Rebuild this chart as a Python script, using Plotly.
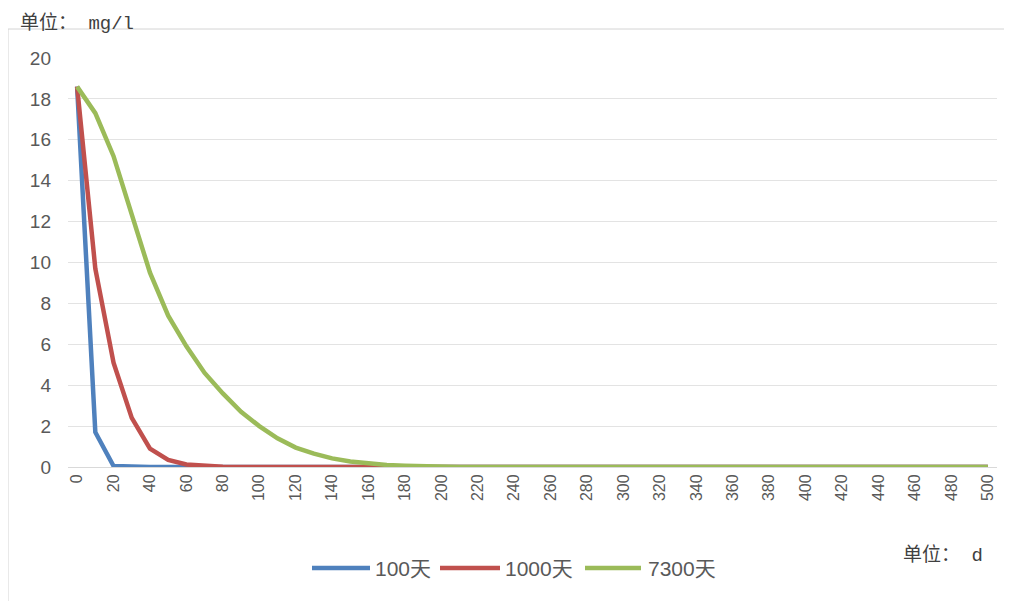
import plotly.graph_objects as go

days = list(range(0, 501, 10))

blue_100 = [18.6, 1.7, 0.05] + [0.0] * (len(days) - 3)
red_1000 = [18.6, 9.7, 5.1, 2.4, 0.9, 0.35, 0.12, 0.04, 0.01] + [0.0] * (len(days) - 9)
green_7300 = [18.6, 17.3, 15.2, 12.4, 9.5, 7.4, 5.9, 4.6, 3.6, 2.7, 2.0, 1.4, 0.95,
              0.65, 0.42, 0.27, 0.16, 0.1, 0.06, 0.03, 0.02] + [0.0] * (len(days) - 21)

series_names = ["100天", "1000天", "7300天"]
series_colors = ["#4F81BD", "#C0504D", "#9BBB59"]
series_values = [blue_100, red_1000, green_7300]

x_ticks = list(range(0, 501, 20))
y_ticks = list(range(0, 21, 2))

# page body has an 8px margin; work in screenshot pixels and convert
OFF = 8
W, H = 1012 - OFF, 601 - OFF
L, R, T, B = 60, 15, 50, 134
pw = W - L - R
ph = H - T - B


def px(xs):
    return (xs - OFF - L) / pw


def py(ys):
    return (H - B - (ys - OFF)) / ph


fig = go.Figure()
for name, color, vals in zip(series_names, series_colors, series_values):
    fig.add_trace(go.Scatter(x=days, y=vals, mode="lines", name=name,
                             line=dict(color=color, width=4.5), showlegend=False))

fig.update_layout(
    width=W, height=H,
    margin=dict(l=L, r=R, t=T, b=B, autoexpand=False),
    paper_bgcolor="white", plot_bgcolor="white",
    font=dict(family="Liberation Sans, Noto Sans CJK SC, sans-serif", color="#595959"),
    xaxis=dict(range=[-5, 505], tickvals=x_ticks, ticktext=[str(v) for v in x_ticks],
               tickangle=-90, showgrid=False, zeroline=False, showline=True,
               linecolor="#D9D9D9", linewidth=1, ticks="",
               tickfont=dict(size=16, color="#595959")),
    yaxis=dict(range=[0, 20], tickvals=y_ticks, showgrid=True, gridcolor="#E3E3E3",
               gridwidth=1, zeroline=False, showline=False, ticks="",
               tickfont=dict(size=19, color="#595959"),
               ticklabelstandoff=16),
    showlegend=False,
)

# custom legend (line samples + labels)
legend_y = 568
legend_lines = [(312, 370), (440, 500), (585, 641)]
legend_text_x = [375, 505, 648]
for (x0, x1), tx, name, color in zip(legend_lines, legend_text_x, series_names, series_colors):
    fig.add_shape(type="line", xref="paper", yref="paper",
                  x0=px(x0), x1=px(x1), y0=py(legend_y), y1=py(legend_y),
                  line=dict(color=color, width=4.5))
    fig.add_annotation(text=name, xref="paper", yref="paper",
                       x=px(tx), y=py(legend_y), xanchor="left", yanchor="middle",
                       showarrow=False, xshift=-2,
                       font=dict(size=21, color="#595959",
                                 family="Liberation Sans, Noto Sans CJK SC"))

# chart frame (top and left edges visible)
fig.add_shape(type="line", xref="paper", yref="paper",
              x0=px(8), x1=px(1012), y0=py(29), y1=py(29),
              line=dict(color="#D4D4D4", width=1))
fig.add_shape(type="line", xref="paper", yref="paper",
              x0=px(8), x1=px(8), y0=py(29), y1=py(601),
              line=dict(color="#D4D4D4", width=1))

fig.add_annotation(text="单位： mg/l", xref="paper", yref="paper",
                   x=px(20), y=py(23), xanchor="left", yanchor="middle",
                   showarrow=False, xshift=-2,
                   font=dict(size=19, color="#404040",
                             family="Liberation Mono, Noto Sans CJK SC"))
fig.add_annotation(text="单位： d", xref="paper", yref="paper",
                   x=px(903), y=py(555), xanchor="left", yanchor="middle",
                   showarrow=False, xshift=-2,
                   font=dict(size=19, color="#404040",
                             family="Liberation Mono, Noto Sans CJK SC"))

fig.write_html("out.html")
